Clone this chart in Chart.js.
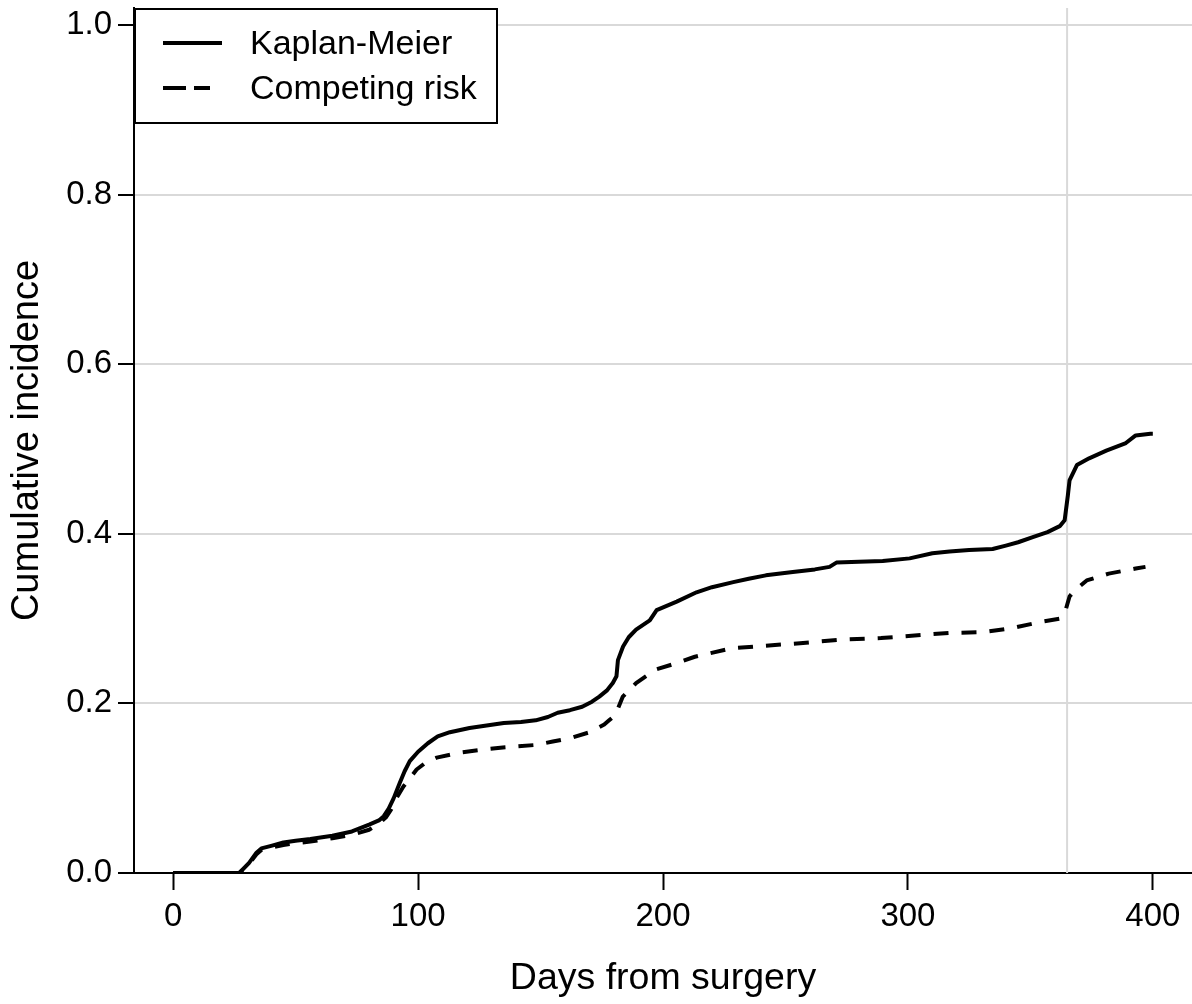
<!DOCTYPE html>
<html>
<head>
<meta charset="utf-8">
<title>Cumulative incidence</title>
<script src="https://cdn.jsdelivr.net/npm/chart.js@4.4.1/dist/chart.umd.min.js"></script>
<style>
  html, body { margin: 0; padding: 0; background: #fff; }
  #wrap { width: 1192px; height: 1004px; }
</style>
</head>
<body>
<div id="wrap"><canvas id="cifChart" width="1192" height="1004"></canvas></div>
<script>
// Kaplan-Meier curve (days, cumulative incidence)
const kmDays = [0, 27, 31, 34, 36, 40, 45, 50, 56, 65, 73, 80, 84, 86, 88, 90, 92.5, 94.5, 96.6, 100,
  104, 108, 113, 121, 128, 135, 142, 148, 153, 157, 162, 167, 171, 174, 177, 179.5, 181, 181.6, 183.7, 186,
  189, 194.6, 197.4, 205.6, 213.7, 220, 228.7, 235, 242, 253, 262, 268, 270.8, 280, 289.7, 300.7, 310, 317, 325, 334.6,
  340, 345, 351, 357, 362, 364, 365.3, 366, 369, 374, 381, 389, 393, 399, 400];
const kmValues = [0, 0, 0.012, 0.024, 0.029, 0.032, 0.036, 0.038, 0.040, 0.044, 0.049, 0.057, 0.062, 0.067, 0.076, 0.088, 0.106, 0.120, 0.132, 0.143,
  0.153, 0.161, 0.166, 0.171, 0.174, 0.177, 0.178, 0.180, 0.184, 0.189, 0.192, 0.196, 0.202, 0.208, 0.215, 0.224, 0.232, 0.251, 0.267, 0.278,
  0.287, 0.298, 0.310, 0.320, 0.331, 0.337, 0.343, 0.347, 0.351, 0.355, 0.358, 0.361, 0.366, 0.367, 0.368, 0.371, 0.377, 0.379, 0.381, 0.382,
  0.386, 0.390, 0.396, 0.402, 0.409, 0.416, 0.445, 0.463, 0.481, 0.489, 0.498, 0.507, 0.516, 0.518, 0.518];

// Competing risk curve
const crDays = [0, 27, 31, 34, 36, 40, 45, 50, 56, 65, 73, 80, 84, 87, 89, 91.5, 94, 99.4, 103, 107.6,
  117, 125, 134.6, 148, 155, 162, 170, 176, 178, 180.5, 183.6, 189, 197, 205, 213, 228, 242, 256, 272, 289,
  307, 317, 331, 343, 354, 362, 364, 366, 368, 373, 382, 393, 397];
const crValues = [0, 0, 0.011, 0.022, 0.027, 0.030, 0.033, 0.035, 0.037, 0.041, 0.045, 0.051, 0.058, 0.066, 0.075, 0.090, 0.102, 0.122, 0.130, 0.136,
  0.142, 0.145, 0.148, 0.151, 0.155, 0.159, 0.166, 0.175, 0.180, 0.186, 0.208, 0.224, 0.240, 0.247, 0.255, 0.265, 0.268, 0.271, 0.275, 0.277,
  0.281, 0.283, 0.284, 0.289, 0.296, 0.300, 0.306, 0.326, 0.333, 0.345, 0.353, 0.359, 0.361];

const seriesLabels = ["Kaplan-Meier", "Competing risk"];
const xTicks = [0, 100, 200, 300, 400];
const yTicks = [0, 0.2, 0.4, 0.6, 0.8, 1.0];
const refDay = 365;

const FONT = "'Liberation Sans', Arial, Helvetica, sans-serif";
const xMin = -16, xMax = 416, yMin = 0, yMax = 1.02;

const toXY = (xs, ys) => xs.map((x, i) => ({ x: x, y: ys[i] }));

// legend box drawn in the upper-left of the plot, like the original
const legendBox = {
  id: "legendBox",
  afterDraw(chart){
    const ctx = chart.ctx;
    const a = chart.chartArea;
    const left = a.left + 1, top = a.top + 1, w = 362, h = 114;
    ctx.save();
    ctx.fillStyle = "#fff";
    ctx.fillRect(left, top, w, h);
    ctx.strokeStyle = "#000";
    ctx.lineWidth = 2;
    ctx.strokeRect(left, top, w, h);

    const rows = [top + 34, top + 79];
    const dashes = [[], [23, 8]];
    ctx.font = "34px " + FONT;
    ctx.textBaseline = "middle";
    ctx.textAlign = "left";
    rows.forEach((ry, i) => {
      ctx.beginPath();
      ctx.setLineDash(dashes[i]);
      ctx.lineWidth = 4;
      ctx.moveTo(left + 28, ry);
      ctx.lineTo(left + (i === 0 ? 87 : 75), ry);
      ctx.stroke();
      ctx.setLineDash([]);
      ctx.fillStyle = "#000";
      ctx.fillText(seriesLabels[i], left + 115, ry + 2);
    });
    ctx.restore();
  }
};

const canvas = document.getElementById("cifChart");
new Chart(canvas, {
  type: "line",
  data: {
    datasets: [
      {
        label: seriesLabels[0],
        data: toXY(kmDays, kmValues),
        borderColor: "#000",
        borderWidth: 4,
        pointRadius: 0,
        tension: 0,
        fill: false,
        borderJoinStyle: "round",
        order: 1
      },
      {
        label: seriesLabels[1],
        data: toXY(crDays, crValues),
        borderColor: "#000",
        borderWidth: 4,
        borderDash: [15, 13],
        pointRadius: 0,
        tension: 0,
        fill: false,
        borderJoinStyle: "round",
        order: 2
      },
      {
        label: "ref",
        data: [{ x: refDay, y: yMin }, { x: refDay, y: yMax }],
        borderColor: "#d9d9d9",
        borderWidth: 2,
        pointRadius: 0,
        fill: false,
        order: 3
      }
    ]
  },
  options: {
    responsive: false,
    animation: false,
    devicePixelRatio: 1,
    layout: { padding: { top: 8, left: 0, right: 0, bottom: 0 } },
    plugins: { legend: { display: false }, tooltip: { enabled: false } },
    scales: {
      x: {
        type: "linear",
        min: xMin,
        max: xMax,
        afterBuildTicks: s => { s.ticks = xTicks.map(v => ({ value: v })); },
        afterFit: s => { s.height = 131; s.paddingLeft = 0; s.paddingRight = 0; },
        grid: { drawOnChartArea: false, drawTicks: true, tickLength: 17, tickColor: "#000", tickWidth: 2 },
        border: { display: true, color: "#000", width: 2 },
        ticks: {
          color: "#000",
          font: { family: FONT, size: 33 },
          padding: 7,
          maxRotation: 0,
          autoSkip: false,
          callback: v => String(v)
        },
        title: {
          display: true,
          text: "Days from surgery",
          color: "#000",
          font: { family: FONT, size: 37.5 },
          padding: { top: 0, bottom: 3 }
        }
      },
      y: {
        type: "linear",
        min: yMin,
        max: yMax,
        afterBuildTicks: s => { s.ticks = yTicks.map(v => ({ value: v })); },
        afterFit: s => { s.width = 134; s.paddingTop = 0; s.paddingBottom = 0; },
        grid: {
          color: c => (c.tick && c.tick.value === 0) ? "rgba(0,0,0,0)" : "#d9d9d9",
          lineWidth: 2,
          drawTicks: true,
          tickLength: 16,
          tickColor: "#000",
          tickWidth: 2
        },
        border: { display: true, color: "#000", width: 2 },
        ticks: {
          color: "#000",
          font: { family: FONT, size: 33 },
          padding: 6,
          autoSkip: false,
          callback: v => Number(v).toFixed(1)
        },
        title: {
          display: true,
          text: "Cumulative incidence",
          color: "#000",
          font: { family: FONT, size: 38 },
          padding: { top: 5, bottom: 0 }
        }
      }
    }
  },
  plugins: [legendBox]
});
</script>
</body>
</html>
